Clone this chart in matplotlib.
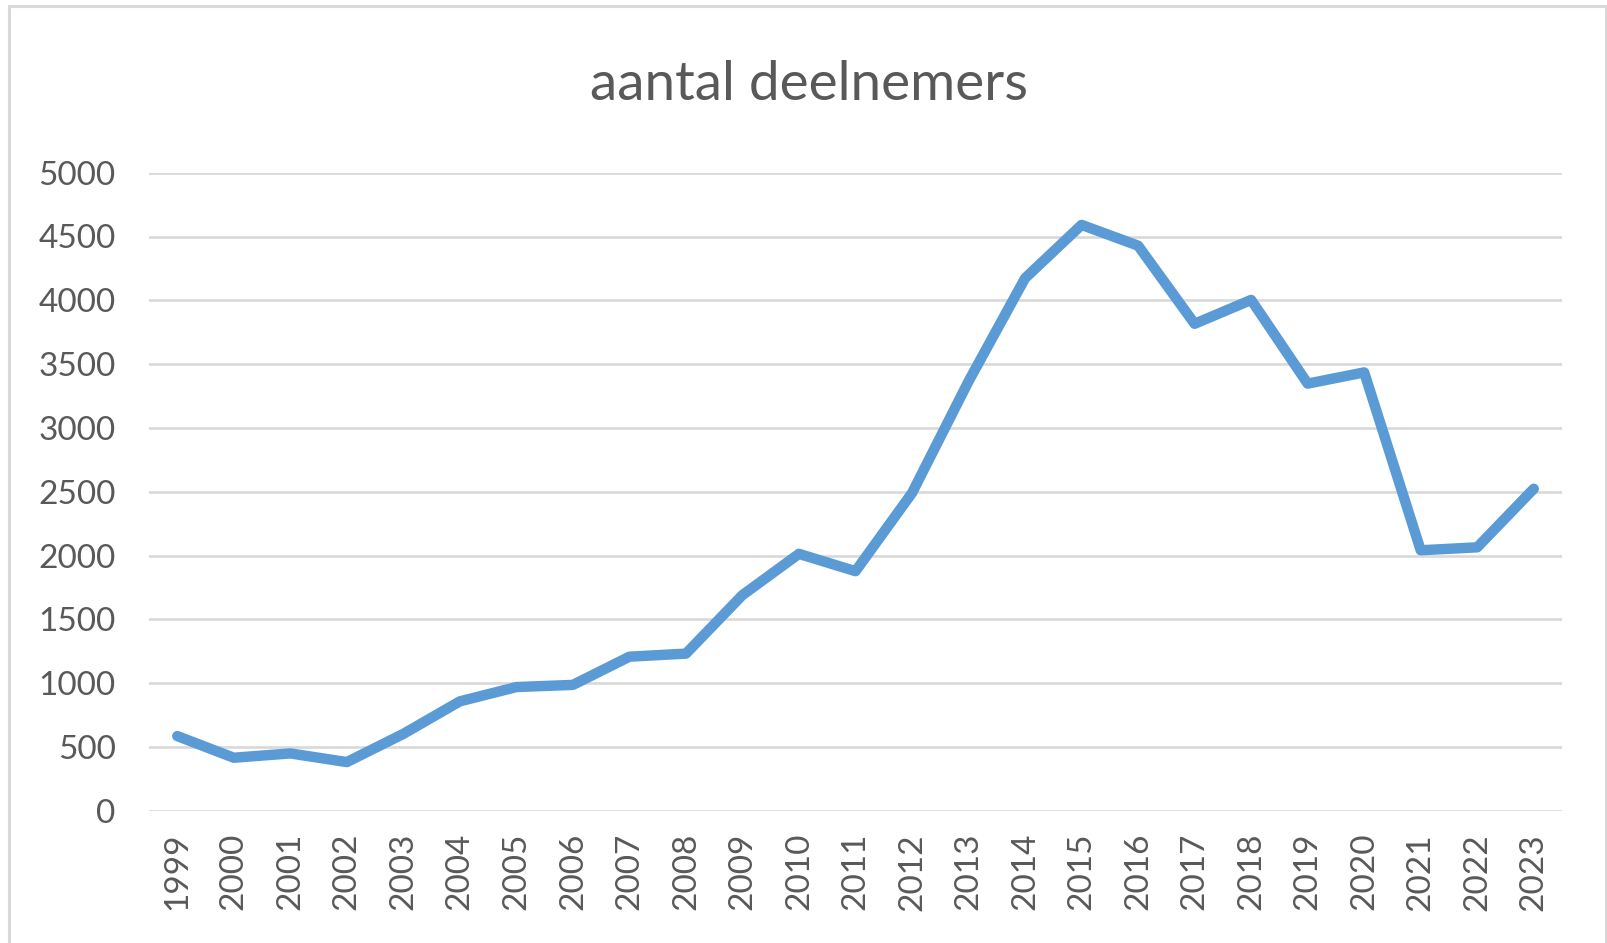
import matplotlib
matplotlib.use("Agg")
import matplotlib.pyplot as plt
from matplotlib.patches import Rectangle

years = [str(y) for y in range(1999, 2024)]
deelnemers = [585, 415, 449, 381, 602, 857, 969, 986, 1207, 1231, 1690, 2013,
              1877, 2490, 3365, 4173, 4591, 4428, 3816, 4003, 3347, 3435,
              2041, 2064, 2523]
yticks = list(range(0, 5001, 500))
title = "aantal deelnemers"

W, H = 1608, 943
fig = plt.figure(figsize=(W / 100, H / 100), dpi=100)
plt.rcParams['font.family'] = ['Lato', 'DejaVu Sans']

ax = fig.add_axes([149 / W, 1 - 810.7 / H, (1562 - 149) / W, (810.7 - 172.7) / H])
x = list(range(len(years)))
ax.plot(x, deelnemers, color='#5b9bd5', lw=7.5, solid_joinstyle='round',
        solid_capstyle='round', zorder=3)
ax.set_xlim(-0.5, len(years) - 0.5)
ax.set_ylim(0, 5000)
ax.set_yticks(yticks)
ax.set_yticklabels([str(v) for v in yticks])
ax.set_xticks(x)
ax.set_xticklabels(years, rotation=90)
ax.grid(axis='y', color='#d9d9d9', lw=1.9, zorder=0)
ax.set_axisbelow(True)
for s in ax.spines.values():
    s.set_visible(False)
ax.tick_params(axis='y', length=0, pad=24, labelsize=24, labelcolor='#595959')
ax.tick_params(axis='x', length=0, pad=16, labelsize=24, labelcolor='#595959')
for lbl in ax.get_xticklabels():
    lbl.set_va('top')
for lbl in ax.get_yticklabels():
    lbl.set_va('center_baseline')

fig.text(809 / W, 1 - 100 / H, title, ha='center', va='baseline',
         fontsize=39.5, color='#595959')

fig.patches.append(Rectangle((9 / W, -0.05), (1606 - 9) / W, 1.05 - 6 / H,
                             transform=fig.transFigure, fill=False,
                             edgecolor='#d9d9d9', lw=2.2))

fig.savefig('out.png', dpi=100)
